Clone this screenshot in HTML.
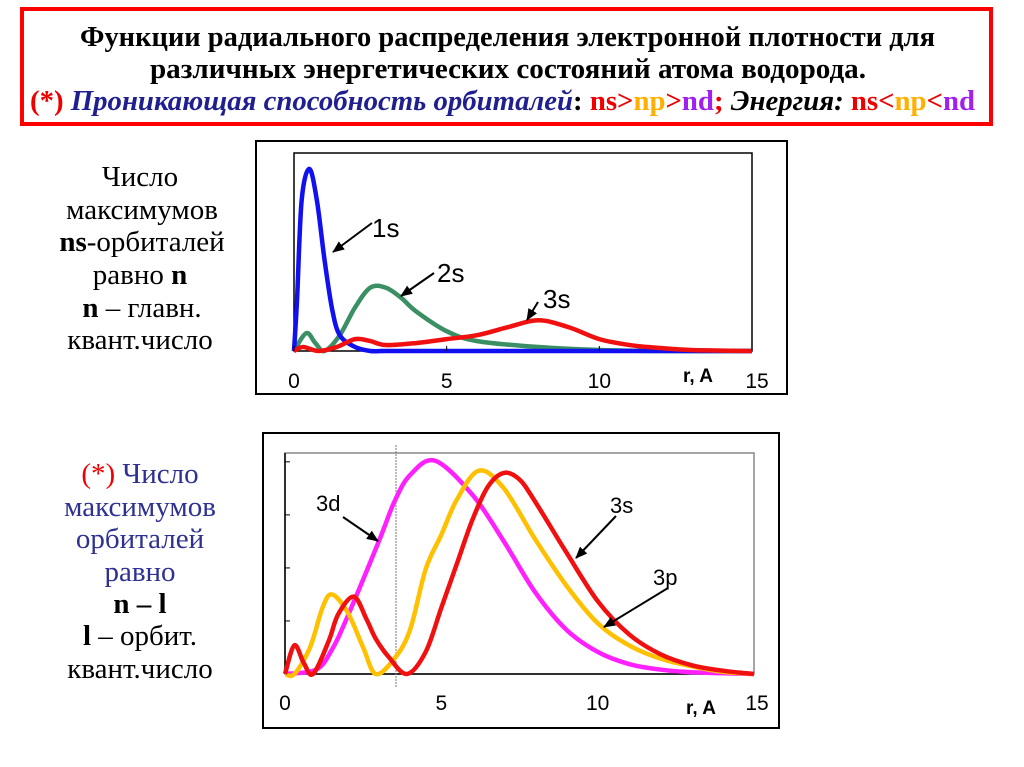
<!DOCTYPE html>
<html><head><meta charset="utf-8"><style>
body{margin:0;background:#fff;}
svg{display:block;}
.t{font-family:"Liberation Serif",serif;font-size:29px;}
.a{font-family:"Liberation Sans",sans-serif;}
</style></head><body>
<svg id="s" width="1024" height="767" viewBox="0 0 1024 767" xmlns="http://www.w3.org/2000/svg">
<defs><marker id="ah" markerWidth="12" markerHeight="10" refX="11" refY="5" orient="auto" markerUnits="userSpaceOnUse"><path d="M0,0 L12,5 L0,10 z" fill="#000"/></marker></defs>
<rect x="22" y="9" width="969" height="115" fill="none" stroke="#f00" stroke-width="4"/>
<g font-family="Liberation Serif, serif" font-weight="bold" font-size="29">
<text x="80" y="46" textLength="855" lengthAdjust="spacingAndGlyphs">Функции радиального распределения электронной плотности для</text>
<text x="150" y="78" textLength="716" lengthAdjust="spacingAndGlyphs">различных энергетических состояний атома водорода.</text>
<text x="30" y="110" textLength="945" lengthAdjust="spacingAndGlyphs"><tspan fill="#e00" font-style="normal">(*) </tspan><tspan fill="#1f1f8f" font-style="italic">Проникающая способность орбиталей</tspan><tspan fill="#000">: </tspan><tspan fill="#e00">ns&gt;</tspan><tspan fill="#ffb000">np</tspan><tspan fill="#e00">&gt;</tspan><tspan fill="#a020f0">nd</tspan><tspan fill="#e00">;</tspan><tspan fill="#000" font-style="italic"> Энергия: </tspan><tspan fill="#e00">ns&lt;</tspan><tspan fill="#ffb000">np</tspan><tspan fill="#e00">&lt;</tspan><tspan fill="#a020f0">nd</tspan></text>
</g>
<g class="t" text-anchor="middle">
<text x="140" y="186">Число</text>
<text x="142" y="219">максимумов</text>
<text x="142" y="251"><tspan font-weight="bold">ns</tspan>-орбиталей</text>
<text x="140" y="284">равно <tspan font-weight="bold">n</tspan></text>
<text x="142" y="317"><tspan font-weight="bold">n</tspan> – главн.</text>
<text x="140" y="349">квант.число</text>
</g>
<g class="t" text-anchor="middle" fill="#2e3192">
<text x="140" y="483"><tspan fill="#e00">(*)</tspan> Число</text>
<text x="140" y="516">максимумов</text>
<text x="140" y="548">орбиталей</text>
<text x="140" y="581">равно</text>
<text x="140" y="613" fill="#000" font-weight="bold">n – l</text>
<text x="140" y="645" fill="#000"><tspan font-weight="bold">l</tspan> – орбит.</text>
<text x="140" y="678" fill="#000">квант.число</text>
</g>
<rect x="256" y="141" width="531" height="253" fill="none" stroke="#000" stroke-width="2"/>
<rect x="294" y="153" width="458" height="198" fill="none" stroke="#000" stroke-width="1.5"/>
<rect x="263" y="433" width="516" height="295" fill="none" stroke="#000" stroke-width="2"/>
<rect x="285" y="453" width="469" height="221" fill="none" stroke="#888" stroke-width="1.5"/>
<line x1="285" y1="453" x2="285" y2="674" stroke="#000" stroke-width="1.5"/>
<line x1="285" y1="674" x2="754" y2="674" stroke="#000" stroke-width="1.5"/>
<line x1="396" y1="445" x2="396" y2="688" stroke="#777" stroke-width="1" stroke-dasharray="2,1"/>
<g id="c1"></g><g id="c2"></g>
</svg>
<script>
const xTicks=[0,5,10,15];
const yTicks2=[0.24,0.48,0.72,0.96];
const r1s=[0,0.1,0.25,0.5,0.75,1,1.25,1.5,2,2.5,3,4,15];
const v1s=[0,0.26,0.76,0.92,0.76,0.46,0.21,0.08,0.02,0,0,0,0];
const r2s=[0,0.4,0.7,1,1.5,2,2.5,3,3.5,4,5,6,8,10,12,15];
const v2s=[0,0.09,0.04,0,0.08,0.22,0.32,0.32,0.27,0.2,0.1,0.05,0.02,0.005,0,0];
const r3s1=[0,0.3,0.8,1.4,2,2.5,3,4,5,6,7,8,9,10,11,12,13,15];
const v3s1=[0,0.02,0,0.02,0.06,0.05,0.03,0.04,0.06,0.08,0.12,0.155,0.12,0.06,0.03,0.015,0.005,0];
const r3d=[0,1,1.5,2,3,3.5,4,4.8,6,7,8,9,10,11,12,13,15];
const v3d=[0,0.02,0.11,0.26,0.6,0.78,0.9,0.965,0.81,0.6,0.37,0.2,0.1,0.045,0.02,0.008,0];
const r3p=[0,0.3,0.8,1.2,1.5,2,2.5,2.9,3.5,4,4.5,5,5.5,6.2,7,8,9,10,11,12,13,14,15];
const v3p=[0,0,0.12,0.3,0.36,0.28,0.12,0,0.07,0.2,0.475,0.63,0.79,0.92,0.84,0.61,0.4,0.23,0.13,0.07,0.035,0.01,0];
const r3s2=[0,0.3,0.6,0.9,1.4,1.7,2.2,2.6,2.9,3.3,3.9,4.5,5,5.5,6,6.5,7,7.5,8,9,10,11,12,13,14,15];
const v3s2=[0,0.13,0.05,0,0.15,0.27,0.35,0.25,0.16,0.08,0,0.1,0.3,0.5,0.7,0.85,0.91,0.88,0.78,0.55,0.33,0.18,0.09,0.04,0.015,0];
const NS="http://www.w3.org/2000/svg";
function mk(t,a,p){const e=document.createElementNS(NS,t);for(const k in a)e.setAttribute(k,a[k]);p.appendChild(e);return e;}
function path(rs,vs,X,Y){const p=rs.map((r,i)=>[X(r),Y(vs[i])]);let d="M"+p[0][0]+","+p[0][1];
for(let i=0;i<p.length-1;i++){const p0=p[i-1]||p[i],p1=p[i],p2=p[i+1],p3=p[i+2]||p2;
const c1x=p1[0]+(p2[0]-p0[0])/6,c1y=p1[1]+(p2[1]-p0[1])/6,c2x=p2[0]-(p3[0]-p1[0])/6,c2y=p2[1]-(p3[1]-p1[1])/6;
d+=` C${c1x},${c1y} ${c2x},${c2y} ${p2[0]},${p2[1]}`;}return d;}
// chart 1
const g1=document.getElementById('c1');
const X1=r=>294+r*(458/15), Y1=v=>351-v*198;
let e;
[[r2s,v2s,'#3a8f64','series-2s'],[r1s,v1s,'#1010f0','series-1s'],[r3s1,v3s1,'#f01010','series-3s']].forEach(s=>{
e=mk('path',{d:path(s[0],s[1],X1,Y1),fill:'none',stroke:s[2],'stroke-width':4.5,'stroke-linejoin':'round'},g1);

});
xTicks.forEach(t=>{
e=mk('line',{x1:X1(t),y1:351,x2:X1(t),y2:346,stroke:'#000'},g1);


e=mk('text',{x:X1(t)+(t==15?5:0),y:388,'text-anchor':'middle','font-size':21,class:'a'},g1);e.textContent=t;

});
e=mk('text',{x:698,y:382,'text-anchor':'middle','font-size':19,'font-weight':'bold',class:'a'},g1);e.textContent='r, A';


const ann1=[['1s',372,237,372,223,333,252],['2s',437,282,434,273,401,296],['3s',543,308,538,302,527,320]];
ann1.forEach(a=>{e=mk('text',{x:a[1],y:a[2],'font-size':26,class:'a'},g1);e.textContent=a[0];


e=mk('line',{x1:a[3],y1:a[4],x2:a[5],y2:a[6],stroke:'#000','stroke-width':2,'marker-end':'url(#ah)'},g1);

});
// chart 2
const g2=document.getElementById('c2');
const X2=r=>285+r*(469/15), Y2=v=>674-v*221;
[[r3d,v3d,'#ff20ff','series-3d'],[r3p,v3p,'#ffc000','series-3p'],[r3s2,v3s2,'#f01010','series-3s']].forEach(s=>{
e=mk('path',{d:path(s[0],s[1],X2,Y2),fill:'none',stroke:s[2],'stroke-width':4.5,'stroke-linejoin':'round'},g2);

});
yTicks2.forEach(t=>{e=mk('line',{x1:285,y1:Y2(t),x2:290,y2:Y2(t),stroke:'#000'},g2);

});
xTicks.forEach(t=>{
e=mk('text',{x:X2(t)+(t==15?3:0),y:710,'text-anchor':'middle','font-size':21,class:'a'},g2);e.textContent=t;

});
e=mk('text',{x:701,y:714,'text-anchor':'middle','font-size':19,'font-weight':'bold',class:'a'},g2);e.textContent='r, A';


const ann2=[['3d',316,511,343,517,378,541],['3s',610,513,616,516,576,558],['3p',653,585,668,588,604,627]];
ann2.forEach(a=>{e=mk('text',{x:a[1],y:a[2],'font-size':22,class:'a'},g2);e.textContent=a[0];


e=mk('line',{x1:a[3],y1:a[4],x2:a[5],y2:a[6],stroke:'#000','stroke-width':2,'marker-end':'url(#ah)'},g2);

});
</script>
</body></html>
